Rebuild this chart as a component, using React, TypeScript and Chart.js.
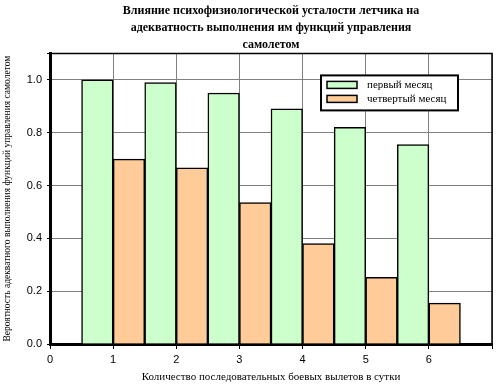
import React, { useEffect, useRef } from 'react';
import { Chart, registerables } from 'chart.js';

Chart.register(...registerables);

const titleLines = [
  'Влияние психофизиологической усталости летчика на',
  'адекватность выполнения им функций управления',
  'самолетом',
];
const xTitle = 'Количество последовательных боевых вылетов в сутки';
const yTitle = 'Вероятность адекватного выполнения функций управления самолетом';
const flights = [1, 2, 3, 4, 5, 6];
const firstMonth = [1.0, 0.99, 0.95, 0.89, 0.82, 0.755];
const fourthMonth = [0.7, 0.667, 0.535, 0.38, 0.252, 0.155];
const seriesLabels = ['первый месяц', 'четвертый месяц'];
const seriesColors = ['#CCFFCC', '#FFCC99'];

const SERIF = '"Liberation Serif", "Times New Roman", serif';
const SANS = '"Liberation Sans", Arial, sans-serif';

const frameAndLegend = {
  id: 'frameAndLegend',
  afterDatasetsDraw(chart: any) {
    const { ctx, chartArea } = chart;
    ctx.save();
    ctx.strokeStyle = '#000';
    ctx.lineWidth = 1.5;
    ctx.beginPath();
    ctx.moveTo(chartArea.left, chartArea.top);
    ctx.lineTo(chartArea.right, chartArea.top);
    ctx.lineTo(chartArea.right, chartArea.bottom);
    ctx.stroke();
    ctx.restore();
  },
  afterDraw(chart: any) {
    const { ctx, chartArea } = chart;
    const bx = chartArea.left + 271;
    const by = chartArea.top + 22;
    const bw = 137;
    const bh = 35;
    ctx.save();
    ctx.fillStyle = '#fff';
    ctx.fillRect(bx, by, bw, bh);
    ctx.strokeStyle = '#000';
    ctx.lineWidth = 2;
    ctx.strokeRect(bx, by, bw, bh);
    ctx.font = '11px ' + SERIF;
    ctx.textBaseline = 'middle';
    chart.data.datasets.forEach((ds: any, i: number) => {
      const sy = by + 6 + i * 14;
      ctx.fillStyle = ds.backgroundColor;
      ctx.fillRect(bx + 6, sy, 30, 7);
      ctx.lineWidth = 1.5;
      ctx.strokeStyle = '#000';
      ctx.strokeRect(bx + 6, sy, 30, 7);
      ctx.fillStyle = '#000';
      ctx.fillText(ds.label, bx + 46, sy + 4);
    });
    ctx.restore();
  },
};

export default function App() {
  const ref = useRef<HTMLCanvasElement>(null);
  useEffect(() => {
    if (!ref.current) return;
    const chart = new Chart(ref.current, {
      type: 'bar',
      data: {
        datasets: [
          {
            label: seriesLabels[0],
            data: flights.map((x, i) => ({ x, y: firstMonth[i] })),
            backgroundColor: seriesColors[0],
            borderColor: '#000',
            borderWidth: 1.5,
            categoryPercentage: 1,
            barPercentage: 1,
          },
          {
            label: seriesLabels[1],
            data: flights.map((x, i) => ({ x, y: fourthMonth[i] })),
            backgroundColor: seriesColors[1],
            borderColor: '#000',
            borderWidth: 1.5,
            categoryPercentage: 1,
            barPercentage: 1,
          },
        ],
      },
      options: {
        responsive: false,
        animation: false,
        layout: { padding: { right: 8, top: 0, left: 0, bottom: 0 } },
        plugins: {
          legend: { display: false },
          tooltip: { enabled: false },
          title: {
            display: true,
            text: titleLines,
            fullSize: false,
            color: '#000',
            font: { family: SERIF, size: 12, weight: 'bold', lineHeight: 1.4 },
            padding: { top: 3, bottom: 0 },
          },
        },
        scales: {
          x: {
            type: 'linear',
            min: 0,
            max: 7,
            offset: false,
            grid: { offset: false, color: '#808080', lineWidth: 1, tickLength: 5, tickColor: '#000' },
            border: { color: '#000', width: 3 },
            ticks: {
              stepSize: 1,
              color: '#000',
              padding: 4,
              maxRotation: 0,
              font: { family: SANS, size: 11 },
              callback: (v: any) => (v === 7 ? '' : String(v)),
            },
            title: {
              display: true,
              text: xTitle,
              color: '#000',
              font: { family: SERIF, size: 11 },
              padding: 0,
            },
            afterFit: (s: any) => {
              s.height = 40;
            },
          },
          y: {
            min: 0,
            max: 1.1,
            grid: { color: '#808080', lineWidth: 1, tickLength: 3, tickColor: '#000' },
            border: { color: '#000', width: 3 },
            ticks: {
              stepSize: 0.2,
              color: '#000',
              padding: 5,
              font: { family: SANS, size: 11 },
              callback: (v: any) => (v > 1.05 ? '' : Number(v).toFixed(1)),
            },
            title: {
              display: true,
              text: yTitle,
              color: '#000',
              font: { family: SERIF, size: 9.5 },
              padding: 2,
            },
            afterFit: (s: any) => {
              s.width = 50;
            },
          },
        },
      },
      plugins: [frameAndLegend],
    });
    return () => chart.destroy();
  }, []);
  return (
    <div style={{ position: 'absolute', left: 0, top: 0, width: 500, height: 384, background: '#fff' }}>
      <canvas ref={ref} width={500} height={384} />
    </div>
  );
}
